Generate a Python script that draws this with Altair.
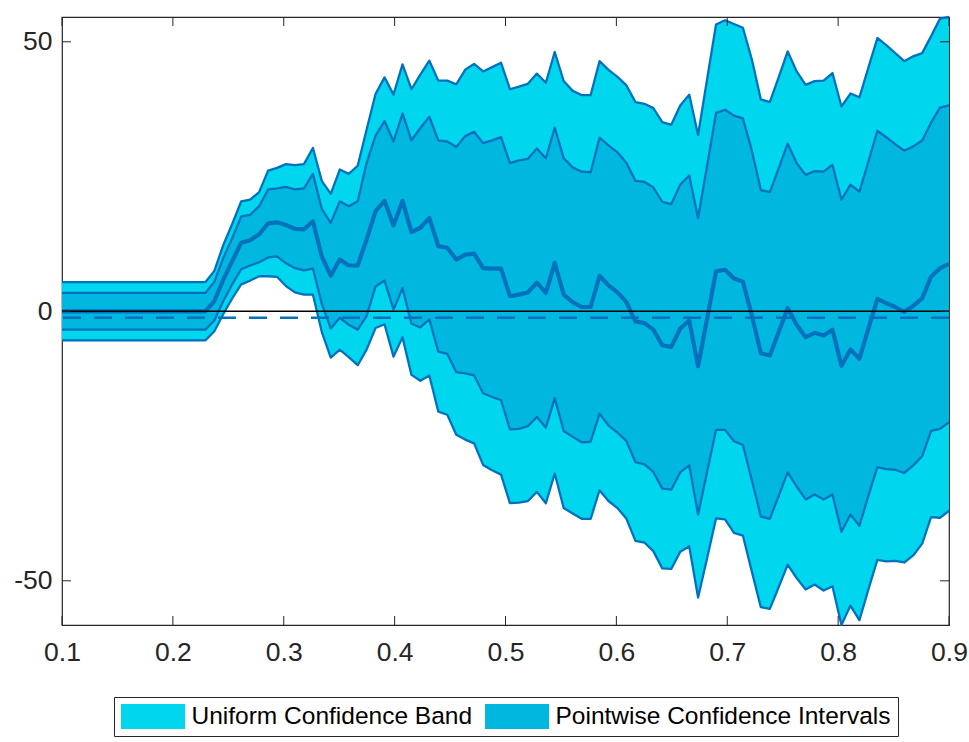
import altair as alt
import pandas as pd

# Quantile grid on which the effect and its confidence bounds are evaluated
quantile = [
    0.1000, 0.1081, 0.1162, 0.1242, 0.1323, 0.1404, 0.1485, 0.1566, 0.1646, 0.1727,
    0.1808, 0.1889, 0.1970, 0.2051, 0.2131, 0.2212, 0.2293, 0.2374, 0.2455, 0.2535,
    0.2616, 0.2697, 0.2778, 0.2859, 0.2939, 0.3020, 0.3101, 0.3182, 0.3263, 0.3343,
    0.3424, 0.3505, 0.3586, 0.3667, 0.3747, 0.3828, 0.3909, 0.3990, 0.4071, 0.4152,
    0.4232, 0.4313, 0.4394, 0.4475, 0.4556, 0.4636, 0.4717, 0.4798, 0.4879, 0.4960,
    0.5040, 0.5121, 0.5202, 0.5283, 0.5364, 0.5444, 0.5525, 0.5606, 0.5687, 0.5768,
    0.5848, 0.5929, 0.6010, 0.6091, 0.6172, 0.6253, 0.6333, 0.6414, 0.6495, 0.6576,
    0.6657, 0.6737, 0.6818, 0.6899, 0.6980, 0.7061, 0.7141, 0.7222, 0.7303, 0.7384,
    0.7465, 0.7545, 0.7626, 0.7707, 0.7788, 0.7869, 0.7949, 0.8030, 0.8111, 0.8192,
    0.8273, 0.8354, 0.8434, 0.8515, 0.8596, 0.8677, 0.8758, 0.8838, 0.8919, 0.9000,
]

# Point estimate of the quantile effect
estimate = [
    0.0, 0.0, 0.0, 0.0, 0.0, 0.0, 0.0, 0.0, 0.0, 0.0,
    0.0, 0.0, 0.0, 0.0, 0.0, 0.0, 0.0, 1.9, 5.9, 9.3,
    12.7, 13.2, 14.3, 16.3, 16.5, 16.0, 15.3, 15.2, 16.7, 10.2,
    6.6, 9.6, 8.5, 8.5, 13.3, 18.6, 20.5, 15.9, 20.5, 14.7,
    15.5, 17.3, 12.1, 11.8, 9.6, 10.5, 10.7, 8.0, 7.9, 7.9,
    2.8, 3.1, 3.5, 5.3, 3.4, 9.0, 3.1, 1.7, 0.8, 0.8,
    6.6, 4.8, 3.5, 1.7, -1.9, -2.2, -3.4, -6.3, -6.6, -3.2,
    -1.7, -10.2, -1.4, 7.4, 7.7, 6.1, 5.5, -0.8, -7.8, -8.2,
    -3.8, 0.6, -2.5, -4.8, -4.0, -4.5, -3.4, -10.1, -7.1, -8.8,
    -3.2, 2.3, 1.5, 0.8, -0.1, 1.0, 2.4, 6.4, 8.0, 8.8,
]

# Pointwise confidence intervals
pw_upper = [
    3.4, 3.4, 3.4, 3.4, 3.4, 3.4, 3.4, 3.4, 3.4, 3.4,
    3.4, 3.4, 3.4, 3.4, 3.4, 3.4, 3.4, 5.5, 9.9, 13.6,
    17.6, 17.9, 19.5, 22.6, 22.8, 23.1, 22.6, 22.8, 25.5, 19.0,
    16.4, 20.4, 19.5, 20.4, 27.5, 32.6, 35.3, 31.5, 36.7, 31.7,
    34.0, 36.1, 31.7, 31.5, 30.5, 32.5, 33.3, 31.2, 31.7, 32.3,
    27.5, 28.0, 28.3, 30.2, 28.4, 34.1, 28.4, 26.7, 25.9, 25.8,
    32.2, 30.8, 29.5, 27.5, 24.2, 24.0, 23.0, 20.3, 19.9, 23.5,
    25.2, 17.3, 27.0, 36.8, 37.4, 36.3, 35.8, 29.8, 22.5, 22.1,
    26.6, 31.1, 27.5, 25.3, 26.0, 25.9, 27.2, 20.7, 23.5, 22.2,
    27.8, 33.5, 32.3, 31.0, 29.8, 30.6, 31.7, 35.0, 37.8, 38.2,
]
pw_lower = [
    -3.4, -3.4, -3.4, -3.4, -3.4, -3.4, -3.4, -3.4, -3.4, -3.4,
    -3.4, -3.4, -3.4, -3.4, -3.4, -3.4, -3.4, -1.7, 1.9, 5.0,
    7.8, 8.5, 9.1, 10.0, 10.2, 8.9, 8.0, 7.6, 7.9, 1.4,
    -3.2, -1.2, -2.5, -3.4, -0.9, 4.6, 5.7, 0.3, 4.3, -2.3,
    -3.0, -1.5, -7.5, -7.9, -11.3, -11.5, -11.9, -15.2, -15.9, -16.5,
    -21.9, -21.8, -21.3, -19.6, -21.6, -16.1, -22.2, -23.3, -24.3, -24.2,
    -19.0, -21.2, -22.5, -24.1, -28.0, -28.4, -29.8, -32.9, -33.1, -29.9,
    -28.6, -37.7, -29.8, -22.0, -22.0, -24.1, -24.8, -31.4, -38.1, -38.5,
    -34.2, -29.9, -32.5, -34.9, -34.0, -34.9, -34.0, -40.9, -37.7, -39.8,
    -34.2, -28.9, -29.3, -29.4, -30.0, -28.6, -26.9, -22.2, -21.8, -20.6,
]

# Uniform confidence band
ub_upper = [
    5.4, 5.4, 5.4, 5.4, 5.4, 5.4, 5.4, 5.4, 5.4, 5.4,
    5.4, 5.4, 5.4, 5.4, 5.4, 5.4, 5.4, 7.5, 12.3, 16.2,
    20.4, 20.7, 22.1, 26.1, 26.6, 27.3, 27.1, 27.3, 30.3, 24.2,
    21.8, 26.3, 25.5, 27.0, 33.7, 40.3, 43.4, 40.2, 45.8, 41.2,
    43.9, 46.5, 42.8, 42.8, 42.1, 44.8, 45.9, 44.5, 45.3, 46.1,
    41.2, 41.7, 42.2, 44.1, 42.4, 48.1, 42.7, 40.9, 40.1, 40.1,
    46.4, 44.8, 43.5, 41.9, 38.8, 38.5, 37.7, 35.1, 34.6, 38.2,
    40.2, 32.7, 43.0, 53.2, 54.0, 53.3, 52.6, 46.7, 39.3, 38.8,
    43.5, 48.2, 44.5, 42.0, 42.7, 42.8, 44.2, 38.0, 40.4, 39.7,
    45.2, 50.7, 49.4, 47.9, 46.4, 47.3, 47.9, 51.0, 54.3, 54.6,
]
ub_lower = [
    -5.4, -5.4, -5.4, -5.4, -5.4, -5.4, -5.4, -5.4, -5.4, -5.4,
    -5.4, -5.4, -5.4, -5.4, -5.4, -5.4, -5.4, -3.7, -0.5, 2.4,
    5.0, 5.7, 6.5, 6.5, 6.4, 4.7, 3.5, 3.1, 3.1, -3.8,
    -8.6, -7.1, -8.5, -10.0, -7.1, -3.1, -2.4, -8.4, -4.8, -11.8,
    -12.9, -11.9, -18.6, -19.2, -22.9, -23.8, -24.5, -28.5, -29.5, -30.3,
    -35.6, -35.5, -35.2, -33.5, -35.6, -30.1, -36.5, -37.5, -38.5, -38.5,
    -33.2, -35.2, -36.5, -38.5, -42.6, -42.9, -44.5, -47.7, -47.8, -44.6,
    -43.6, -53.1, -45.8, -38.4, -38.6, -41.1, -41.6, -48.3, -54.9, -55.2,
    -51.1, -47.0, -49.5, -51.6, -50.7, -51.8, -51.0, -58.2, -54.6, -57.3,
    -51.6, -46.1, -46.4, -46.3, -46.6, -45.3, -43.1, -38.2, -38.3, -37.0,
]

# Average effect (dashed reference line)
average_effect = -1.2

x_ticks = [0.1, 0.2, 0.3, 0.4, 0.5, 0.6, 0.7, 0.8, 0.9]
y_ticks = [-50, 0, 50]

UB_LABEL = "Uniform Confidence Band"
PW_LABEL = "Pointwise Confidence Intervals"

FONT = "Liberation Sans"
AXIS_GRAY = "#262626"
LINE_BLUE = "#0072BD"
UB_FILL = "#00D7EE"
PW_FILL = "#00B7DF"

PLOT_W, PLOT_H = 887, 608
TICK_LEN = 9

df = pd.DataFrame({
    "q": quantile,
    "est": estimate,
    "pw_hi": pw_upper,
    "pw_lo": pw_lower,
    "ub_hi": ub_upper,
    "ub_lo": ub_lower,
})
x_tick_df = pd.DataFrame({"q": x_ticks})
y_tick_df = pd.DataFrame({"v": y_ticks})

x_scale = alt.Scale(domain=[0.1, 0.9], nice=False, zero=False)
y_scale = alt.Scale(domain=[min(ub_lower), max(ub_upper)], nice=False, zero=False)
color_scale = alt.Scale(domain=[UB_LABEL, PW_LABEL], range=[UB_FILL, PW_FILL])

# Axes carry only the labels; inward ticks are drawn as rules below
axis_style = dict(
    grid=False, domain=False, ticks=False, tickSize=0, labelFlush=False,
    labelFont=FONT, labelFontSize=26.5, labelColor=AXIS_GRAY, title=None,
)
x_axis = alt.Axis(orient="bottom", values=x_ticks, format=".1f",
                  labelPadding=14, **axis_style)
y_axis = alt.Axis(orient="left", values=y_ticks, labelExpr="'' + datum.value",
                  labelPadding=10, **axis_style)

X = alt.X("q:Q", scale=x_scale, axis=x_axis)

legend = alt.Legend(
    title=None, orient="none", legendX=52, legendY=680, direction="horizontal",
    symbolType="M-2.56,-1H2.56V1H-2.56Z", symbolSize=625, symbolOffset=19.5,
    symbolStrokeWidth=0, symbolOpacity=1,
    labelFont=FONT, labelFontSize=24.5, labelColor="black", labelLimit=600,
    labelOffset=26, columnPadding=12, padding=7,
    strokeColor=AXIS_GRAY, fillColor="white",
)

base = alt.Chart(df)

uniform_band = base.transform_calculate(band=f"'{UB_LABEL}'").mark_area(opacity=1).encode(
    x=X,
    y=alt.Y("ub_lo:Q", scale=y_scale, axis=y_axis),
    y2="ub_hi:Q",
    color=alt.Color("band:N", scale=color_scale, legend=legend),
)

pointwise_band = base.transform_calculate(band=f"'{PW_LABEL}'").mark_area(opacity=1).encode(
    x=X,
    y=alt.Y("pw_lo:Q", scale=y_scale, axis=y_axis),
    y2="pw_hi:Q",
    color=alt.Color("band:N", scale=color_scale, legend=legend),
)

bound_lines = base.transform_fold(
    ["ub_hi", "pw_hi", "pw_lo", "ub_lo"], as_=["bound", "value"]
).mark_line(color=LINE_BLUE, strokeWidth=2.3, strokeJoin="round").encode(
    x=X,
    y=alt.Y("value:Q", scale=y_scale, axis=y_axis),
    detail="bound:N",
)

estimate_line = base.mark_line(color=LINE_BLUE, strokeWidth=4.2, strokeJoin="round").encode(
    x=X,
    y=alt.Y("est:Q", scale=y_scale, axis=y_axis),
)

zero_line = alt.Chart(pd.DataFrame({"level": [0.0]})).mark_rule(
    color="black", strokeWidth=1.5
).encode(y=alt.Y("level:Q", scale=y_scale, axis=y_axis))

average_line = alt.Chart(pd.DataFrame({"level": [average_effect]})).mark_rule(
    color=LINE_BLUE, strokeWidth=2.3, strokeDash=[18, 13]
).encode(y=alt.Y("level:Q", scale=y_scale, axis=y_axis))

# Inward tick marks on all four sides of the box
tick_style = dict(color=AXIS_GRAY, strokeWidth=1)
ticks_bottom = alt.Chart(x_tick_df).mark_rule(**tick_style).encode(
    x=X, y=alt.value(PLOT_H), y2=alt.value(PLOT_H - TICK_LEN))
ticks_top = alt.Chart(x_tick_df).mark_rule(**tick_style).encode(
    x=X, y=alt.value(0), y2=alt.value(TICK_LEN))
ticks_left = alt.Chart(y_tick_df).mark_rule(**tick_style).encode(
    y=alt.Y("v:Q", scale=y_scale, axis=y_axis), x=alt.value(0), x2=alt.value(TICK_LEN))
ticks_right = alt.Chart(y_tick_df).mark_rule(**tick_style).encode(
    y=alt.Y("v:Q", scale=y_scale, axis=y_axis), x=alt.value(PLOT_W), x2=alt.value(PLOT_W - TICK_LEN))

chart = alt.layer(
    uniform_band, pointwise_band, bound_lines, estimate_line, zero_line, average_line,
    ticks_bottom, ticks_top, ticks_left, ticks_right,
).properties(
    width=PLOT_W, height=PLOT_H,
    autosize=alt.AutoSizeParams(type="none"),
    padding={"left": 62, "top": 17, "right": 20, "bottom": 117},
    background="white",
).configure_view(
    stroke=AXIS_GRAY, strokeWidth=1.2
)

chart.save("out.html", embed_options={"renderer": "svg", "actions": False})
